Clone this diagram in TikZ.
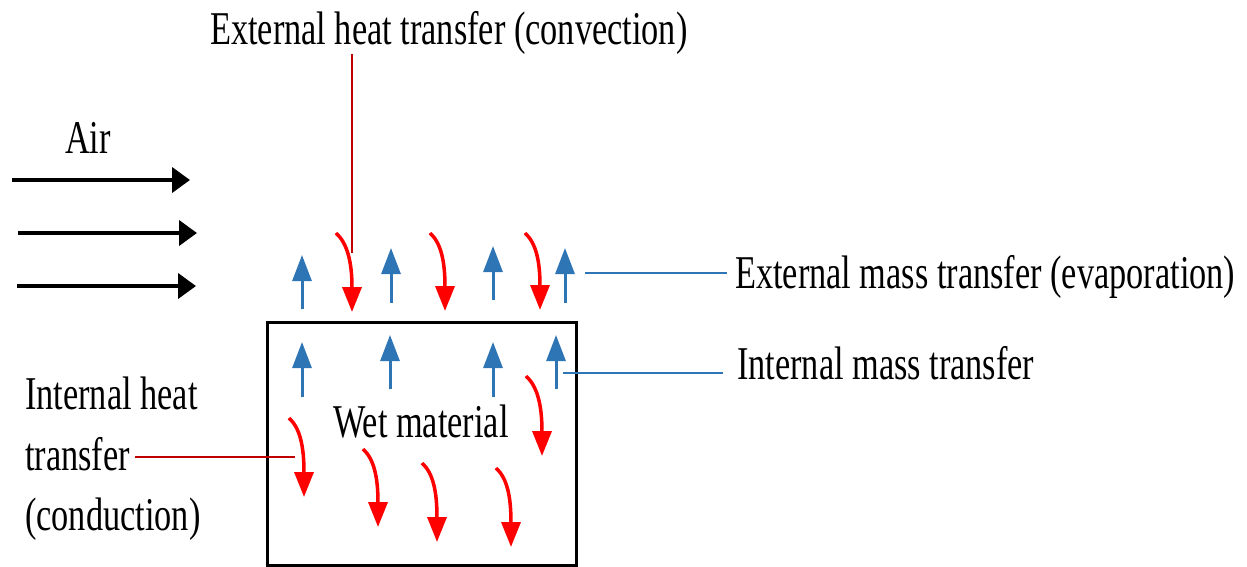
\documentclass[tikz,border=0pt]{standalone}
\usepackage{fontspec}
\setmainfont{Liberation Serif}
\usetikzlibrary{arrows.meta}
\definecolor{heatred}{RGB}{255,0,0}
\definecolor{massblue}{RGB}{46,117,182}
\definecolor{leaderred}{RGB}{192,0,0}

\begin{document}
\begin{tikzpicture}[x=1pt,y=-1pt,
  lbl/.style={font=\fontsize{47}{61}\selectfont, xscale=0.73, inner sep=0pt, anchor=base west},
  airflow/.style={line width=4pt, -{Triangle[length=18pt,width=25pt]}},
  massflow/.style={massblue, line width=3pt, -{Triangle[length=26pt,width=19pt]}},
  heatflow/.style={heatred, line width=3.5pt, -{Triangle[length=25pt,width=19pt]}},
  heatlead/.style={leaderred, line width=1.2pt},
  masslead/.style={massblue, line width=1.2pt}]
\useasboundingbox (0,0) rectangle (1247,566);

% wet material block
\node[draw, line width=2.5pt, minimum width=309pt, minimum height=243pt,
      inner sep=0pt, anchor=north west] (box) at (266,321) {};
\node[lbl] (wet) at (333,437) {Wet material};

% labels
\node[lbl] (conv) at (210,44) {External heat transfer (convection)};
\node[lbl] (air) at (65,153) {Air};
\node[lbl] (extmass) at (735,288) {External mass transfer (evaporation)};
\node[lbl] (intmass) at (737,379) {Internal mass transfer};
\node[lbl] (ih1) at (25,409) {Internal heat};
\node[lbl] (ih2) at (25,470) {transfer};
\node[lbl] (ih3) at (25,530) {(conduction)};

% incoming air
\coordinate (a1s) at (12,180);  \coordinate (a1e) at (190,180);
\coordinate (a2s) at (18,233);  \coordinate (a2e) at (197,233);
\coordinate (a3s) at (17,286);  \coordinate (a3e) at (196,286);
\draw[airflow] (a1s) -- (a1e);
\draw[airflow] (a2s) -- (a2e);
\draw[airflow] (a3s) -- (a3e);

% moisture leaving the surface
\draw[massflow] (302,309) -- (302,255);
\draw[massflow] (391,303) -- (391,248);
\draw[massflow] (493,300) -- (493,246);
\draw[massflow] (565,303) -- (565,248);

% moisture moving inside the block
\draw[massflow] (302,397) -- (302,342);
\draw[massflow] (390,389) -- (390,335);
\draw[massflow] (493,397) -- (493,342);
\draw[massflow] (556,389) -- (556,335);

% heat arriving at the surface
\draw[heatflow] (336,233) .. controls (347,243) and (352,261) .. (352,312);
\draw[heatflow] (430,233) .. controls (441,243) and (445,261) .. (445,311);
\draw[heatflow] (525,233) .. controls (536,243) and (540,261) .. (540,310);

% heat conducted into the block
\draw[heatflow] (289,418) .. controls (300,428) and (304,446) .. (304,497);
\draw[heatflow] (363,449) .. controls (374,459) and (378,477) .. (378,527);
\draw[heatflow] (422,463) .. controls (433,473) and (437,491) .. (437,542);
\draw[heatflow] (496,468) .. controls (507,478) and (511,496) .. (511,547);
\draw[heatflow] (526,376) .. controls (537,386) and (542,404) .. (542,456);

% leader lines
\coordinate (convend) at (352,253);
\draw[heatlead] (conv.south -| convend) -- (convend);
\coordinate (em) at (585,273);
\draw[masslead, shorten >=8pt] (em) -- (em -| extmass.west);
\coordinate (im) at (563,373);
\draw[masslead, shorten >=14pt] (im) -- (im -| intmass.west);
\coordinate (ih) at (295,457);
\draw[heatlead, shorten <=5pt] (ih2.east |- ih) -- (ih);
\end{tikzpicture}
\end{document}
